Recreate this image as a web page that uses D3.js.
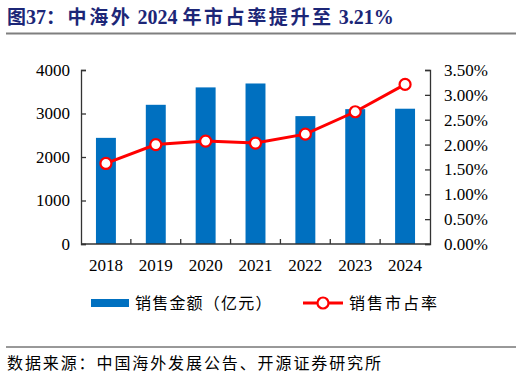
<!DOCTYPE html>
<html><head><meta charset="utf-8">
<script src="https://cdn.jsdelivr.net/npm/d3@7/dist/d3.min.js"></script>
<style>
html,body{margin:0;padding:0;background:#fff;}
svg{display:block;}
</style></head>
<body>
<script>
const years = ["2018","2019","2020","2021","2022","2023","2024"];
const sales = [2440, 3200, 3600, 3690, 2940, 3100, 3110];
const share = [1.62, 2.00, 2.07, 2.03, 2.21, 2.66, 3.21];
const leftTicks = [0, 1000, 2000, 3000, 4000];
const rightTicks = [0, 0.5, 1.0, 1.5, 2.0, 2.5, 3.0, 3.5];
const sourceText = "数据来源：中国海外发展公告、开源证券研究所";
const legendBar = "销售金额（亿元）";
const legendLine = "销售市占率";

const W = 522, H = 377;
const m = {left: 81, right: 430, top: 70, bottom: 244};
const svg = d3.select("body").append("svg").attr("width", W).attr("height", H);

const serif = "'Liberation Serif','Times New Roman',serif";
const cjk = "'Noto Sans CJK SC','Noto Sans CJK JP',sans-serif";

// title
const t = svg.append("text").attr("x", 7).attr("y", 24)
  .attr("fill", "#1c2677").attr("font-size", 19).attr("font-weight", "bold");
const parts = [
  ["图", cjk, 0], ["37", serif, 0], ["：中海外", cjk, 2.6], [" ", serif, 0], ["2024", serif, 0],
  [" ", serif, 0], ["年市占率提升至", cjk, 2.6], [" ", serif, 0], ["3.21%", serif, 0]
];
parts.forEach(([s, f, ls]) => {
  const sp = t.append("tspan").attr("font-family", f).attr("letter-spacing", ls).text(s);
  if (f === serif) sp.attr("font-size", 20);
});
svg.append("line").attr("x1", 6).attr("x2", 516).attr("y1", 33.5).attr("y2", 33.5)
  .attr("stroke", "#7f7f7f").attr("stroke-width", 2);

const x = d3.scaleBand().domain(years).range([m.left, m.right]).paddingInner(0).paddingOuter(0);
const yL = d3.scaleLinear().domain([0, 4000]).range([m.bottom, m.top]);
const yR = d3.scaleLinear().domain([0, 3.5]).range([m.bottom, m.top]);

// bars
const bw = x.bandwidth() * 0.4;
svg.append("g").selectAll("rect").data(years).join("rect")
  .attr("x", d => x(d) + x.bandwidth()/2 - bw/2)
  .attr("width", bw)
  .attr("y", (d,i) => yL(sales[i]))
  .attr("height", (d,i) => m.bottom - yL(sales[i]))
  .attr("fill", "#0070c0");

// axes
const axStyle = g => {
  g.selectAll("path").attr("stroke", "#333").attr("stroke-width", 1.3);
  g.selectAll("line").attr("stroke", "#333").attr("stroke-width", 1.3);
  g.selectAll("text").attr("font-family", serif).attr("font-size", 17).attr("fill", "#000");
};
const gl = svg.append("g").attr("transform", `translate(${m.left},0)`)
  .call(d3.axisLeft(yL).tickValues(leftTicks).tickSizeInner(-5).tickSizeOuter(-5).tickPadding(11).tickFormat(d3.format("d")));
axStyle(gl);
const gr = svg.append("g").attr("transform", `translate(${m.right},0)`)
  .call(d3.axisRight(yR).tickValues(rightTicks).tickSizeInner(-5).tickSizeOuter(-5).tickPadding(14).tickFormat(d => d.toFixed(2) + "%"));
axStyle(gr);

// bottom axis
const gb = svg.append("g").attr("transform", `translate(0,${m.bottom})`)
  .call(d3.axisBottom(x).tickSize(0).tickPadding(15));
axStyle(gb);
gb.select("path").attr("d", `M${m.left},0H${m.right}`);
gb.append("g").selectAll("line").data(years.slice(1)).join("line")
  .attr("x1", d => x(d)).attr("x2", d => x(d)).attr("y1", 0).attr("y2", -5)
  .attr("stroke", "#333").attr("stroke-width", 1.3);

// line
const line = d3.line().x((d,i) => x(years[i]) + x.bandwidth()/2).y(d => yR(d));
svg.append("path").datum(share).attr("d", line).attr("fill", "none")
  .attr("stroke", "#ff0000").attr("stroke-width", 3);
svg.append("g").selectAll("circle").data(share).join("circle")
  .attr("cx", (d,i) => x(years[i]) + x.bandwidth()/2)
  .attr("cy", d => yR(d)).attr("r", 5.5)
  .attr("fill", "#fff").attr("stroke", "#ff0000").attr("stroke-width", 2.2);

// legend
const ly = 303;
svg.append("rect").attr("x", 91).attr("y", ly - 4).attr("width", 38).attr("height", 8).attr("fill", "#0070c0");
svg.append("text").attr("x", 135).attr("y", ly + 6).attr("font-family", cjk).attr("font-size", 16)
  .attr("letter-spacing", 1.2).attr("fill", "#000").text(legendBar);
svg.append("line").attr("x1", 303).attr("x2", 343).attr("y1", ly).attr("y2", ly)
  .attr("stroke", "#ff0000").attr("stroke-width", 3);
svg.append("circle").attr("cx", 323).attr("cy", ly).attr("r", 5.5).attr("fill", "#fff")
  .attr("stroke", "#ff0000").attr("stroke-width", 2.2);
svg.append("text").attr("x", 349).attr("y", ly + 6).attr("font-family", cjk).attr("font-size", 16)
  .attr("letter-spacing", 2).attr("fill", "#000").text(legendLine);

// source
svg.append("line").attr("x1", 6).attr("x2", 516).attr("y1", 347).attr("y2", 347)
  .attr("stroke", "#333").attr("stroke-width", 1);
svg.append("text").attr("x", 7).attr("y", 369).attr("font-family", cjk).attr("font-size", 16)
  .attr("letter-spacing", 1.9).attr("fill", "#000").text(sourceText);
</script>
</body></html>
